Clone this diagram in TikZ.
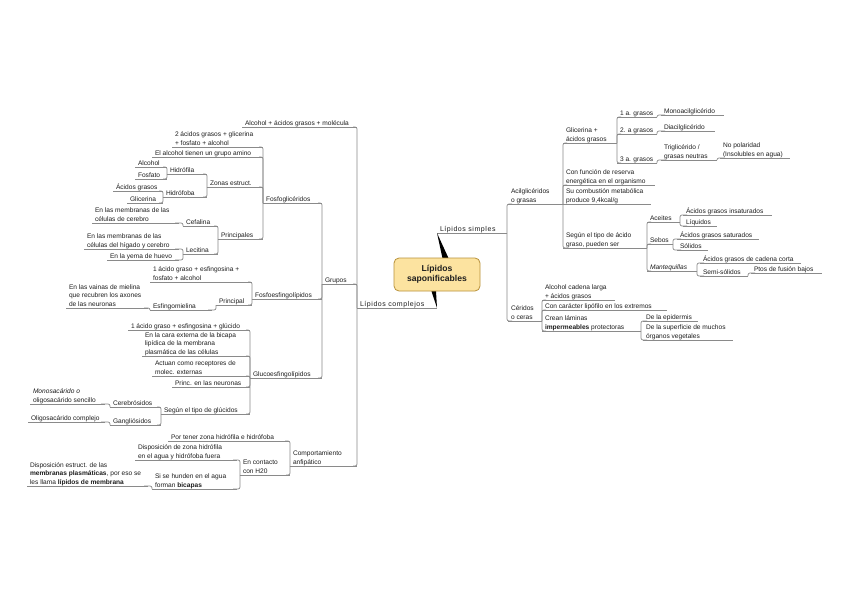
\documentclass[tikz,border=0pt]{standalone}
\usepackage{fontspec}
\setmainfont{Liberation Sans}
\newfontfamily\tpf{Liberation Sans}
\newfontfamily\tpfsp[LetterSpace=8]{Liberation Sans}
\usetikzlibrary{calc}
\definecolor{lin}{HTML}{8A8A8A}
\definecolor{cfill}{HTML}{FCE3A0}
\definecolor{cdraw}{HTML}{B8913A}
\definecolor{txt}{HTML}{1E1E1E}
\newcommand\tpfont{\tpf\fontsize{6.6}{8.4}\selectfont}
\newcommand\spfont{\tpfsp\fontsize{7}{8.4}\selectfont}
\newcommand\topic[6][]{%
  \pgfmathsetlengthmacro\tpw{#4-(#3)-6}%
  \node[topic,#1] (#2) at (#3,#5) {\makebox[\tpw][l]{\raisebox{0pt}[\height][1.6pt]{\begin{tabular}[b]{@{}l@{}}#6\end{tabular}}}};
  \draw[ul] (#2.south west) -- (#2.south east);}
\newcommand\conR[2]{\draw[conn] (#1.south east) |- ([xshift=4pt]#2.south west);}
\newcommand\conL[2]{\draw[conn] (#1.south west) |- ([xshift=-4pt]#2.south east);}
\newcommand\conS[2]{\draw[conn] (#1.south east) -- (#2.south west);}
\tikzset{
  topic/.style={anchor=south west, inner xsep=3pt, inner ysep=0.3pt, outer sep=0pt, font=\tpfont, text=txt},
  ul/.style={draw=lin, line width=0.7pt},
  conn/.style={draw=lin, line width=0.7pt, rounded corners=2pt},
  central/.style={rounded corners=5pt, fill=cfill, draw=cdraw, line width=0.8pt,
    minimum width=86pt, minimum height=33pt, align=center, inner sep=0pt, text=txt,
    font=\tpf\bfseries\fontsize{8.6}{10}\selectfont}
}
\begin{document}
\begin{tikzpicture}[x=1pt,y=-1pt]
\fill[white] (0,0) rectangle (848,599);
\path[use as bounding box] (0,0) rectangle (848,599);

% ---------- right side ----------
\topic[font=\spfont]{simp}{437}{507}{233}{Lípidos simples}
\topic{acil}{508}{563}{204}{Acilglicéridos\\o grasas}
\topic{glic}{563}{617}{143}{Glicerina +\\ácidos grasos}
\topic{a1}{617}{657}{117}{1 a. grasos}
\topic{mono}{661}{724}{115}{Monoacilglicérido}
\topic{a2}{617}{657}{134}{2. a grasos}
\topic{di}{661}{715}{131}{Diacilglicérido}
\topic{a3}{617}{657}{163}{3 a. grasos}
\topic{tri}{661}{717}{160}{Triglicérido /\\grasas neutras}
\topic{nopol}{720}{790}{158}{No polaridad\\(Insolubles en agua)}
\topic{func}{563}{655}{185}{Con función de reserva\\energética en el organismo}
\topic{comb}{563}{651}{204}{Su combustión metabólica\\produce 9,4kcal/g}
\topic{segun}{563}{647}{248}{Según el tipo de ácido\\graso, pueden ser}
\topic{aceit}{647}{680}{222}{Aceites}
\topic{ains}{683}{772}{215}{Ácidos grasos insaturados}
\topic{liq}{683}{717}{226}{Líquidos}
\topic{sebos}{647}{673}{244}{Sebos}
\topic{asat}{677}{759}{239}{Ácidos grasos saturados}
\topic{sol}{677}{708}{250}{Sólidos}
\topic{mant}{647}{697}{271}{\textit{Mantequillas}}
\topic{acort}{700}{801}{263}{Ácidos grasos de cadena corta}
\topic{semi}{700}{748}{276}{Semi-sólidos}
\topic{ptos}{751}{822}{273}{Ptos de fusión bajos}
\topic{cer}{508}{542}{321}{Céridos\\o ceras}
\topic{alc2}{542}{615}{300}{Alcohol cadena larga\\+ ácidos grasos}
\topic{lipo}{542}{667}{310}{Con carácter lipófilo en los extremos}
\topic{lam}{542}{641}{331}{Crean láminas\\\textbf{impermeables} protectoras}
\topic{epid}{643}{698}{321}{De la epidermis}
\topic{sup}{643}{733}{340}{De la superficie de muchos\\órganos vegetales}

\conR{simp}{acil} \conR{simp}{cer}
\conR{acil}{glic} \conR{acil}{func} \conS{acil}{comb} \conR{acil}{segun}
\conR{glic}{a1} \conR{glic}{a2} \conR{glic}{a3}
\conR{a1}{mono} \conR{a2}{di} \conR{a3}{tri} \conR{tri}{nopol}
\conR{segun}{aceit} \conR{segun}{sebos} \conR{segun}{mant}
\conR{aceit}{ains} \conR{aceit}{liq}
\conR{sebos}{asat} \conR{sebos}{sol}
\conR{mant}{acort} \conR{mant}{semi} \conR{semi}{ptos}
\conR{cer}{alc2} \conR{cer}{lipo} \conR{cer}{lam}
\conR{lam}{epid} \conR{lam}{sup}

% ---------- left side ----------
\topic[font=\spfont]{comp}{357}{437}{308}{Lípidos complejos}
\topic{alcm}{242}{357}{127}{Alcohol + ácidos grasos + molécula}
\topic{grupos}{322}{357}{284}{Grupos}
\topic{compo}{290}{357}{466}{Comportamiento\\anfipático}
\topic{fosfo}{263}{322}{203}{Fosfoglicéridos}
\topic{fesf}{252}{322}{299}{Fosfoesfingolípidos}
\topic{gesf}{250}{322}{378}{Glucoesfingolípidos}
\topic{dos}{172}{263}{147}{2 ácidos grasos + glicerina\\+ fosfato + alcohol}
\topic{amino}{152}{263}{157}{El alcohol tienen un grupo amino}
\topic{zonas}{207}{263}{187}{Zonas estruct.}
\topic{princ}{218}{263}{239}{Principales}
\topic{hfila}{167}{207}{174}{Hidrófila}
\topic{hfoba}{163}{207}{197}{Hidrófoba}
\topic{alcoh}{135}{167}{167}{Alcohol}
\topic{fosf}{135}{167}{179}{Fosfato}
\topic{agr}{113}{163}{191}{Ácidos grasos}
\topic{glice}{127}{163}{203}{Glicerina}
\topic{cef}{183}{218}{226}{Cefalina}
\topic{lec}{183}{218}{254}{Lecitina}
\topic{cmem}{92}{179}{223}{En las membranas de las\\células de cerebro}
\topic{lmem}{84}{179}{249}{En las membranas de las\\células del hígado y cerebro}
\topic{yema}{107}{179}{260}{En la yema de huevo}
\topic{fesf1}{150}{252}{282}{1 ácido graso + esfingosina +\\fosfato + alcohol}
\topic{princ2}{216}{252}{305}{Principal}
\topic{esfm}{150}{212}{310}{Esfingomielina}
\topic{vainas}{66}{148}{308}{En las vainas de mielina\\que recubren los axones\\de las neuronas}
\topic{gesf1}{128}{250}{330}{1 ácido graso + esfingosina + glúcido}
\topic{cara}{142}{250}{356}{En la cara externa de la bicapa\\lipídica de la membrana\\plasmática de las células}
\topic{actuan}{152}{250}{376}{Actuan como receptores de\\molec. externas}
\topic{neur}{172}{250}{387}{Princ. en las neuronas}
\topic{stipo}{161}{250}{414}{Según el tipo de glúcidos}
\topic{cereb}{110}{161}{407}{Cerebrósidos}
\topic{gang}{110}{161}{425}{Gangliósidos}
\topic{mono2}{30}{105}{404}{\textit{Monosacárido o}\\oligosacárido sencillo}
\topic{olig}{28}{105}{422}{Oligosacárido complejo}
\topic{tener}{168}{289}{441}{Por tener zona hidrófila e hidrófoba}
\topic{contacto}{240}{290}{475}{En contacto\\con H20}
\topic{disp}{135}{237}{460}{Disposición de zona hidrófila\\en el agua y hidrófoba fuera}
\topic{hunden}{152}{237}{489}{Si se hunden en el agua\\forman \textbf{bicapas}}
\topic{estr}{27}{148}{486}{Disposición estruct. de las\\\textbf{membranas plasmáticas}, por eso se\\les llama \textbf{lípidos de membrana}}

\conL{comp}{alcm} \conL{comp}{grupos} \conL{comp}{compo}
\conL{grupos}{fosfo} \conL{grupos}{fesf} \conL{grupos}{gesf}
\conL{fosfo}{dos} \conL{fosfo}{amino} \conL{fosfo}{zonas} \conL{fosfo}{princ}
\conL{zonas}{hfila} \conL{zonas}{hfoba}
\conL{hfila}{alcoh} \conL{hfila}{fosf}
\conL{hfoba}{agr} \conL{hfoba}{glice}
\conL{princ}{cef} \conL{princ}{lec}
\conL{cef}{cmem}
\conL{lec}{lmem} \conL{lec}{yema}
\conL{fesf}{fesf1} \conL{fesf}{princ2}
\conL{princ2}{esfm} \conL{esfm}{vainas}
\conL{gesf}{gesf1} \conL{gesf}{cara} \conL{gesf}{actuan} \conL{gesf}{neur} \conL{gesf}{stipo}
\conL{stipo}{cereb} \conL{stipo}{gang}
\conL{cereb}{mono2} \conL{gang}{olig}
\conL{compo}{tener} \conL{compo}{contacto}
\conL{contacto}{disp} \conL{contacto}{hunden}
\conL{hunden}{estr}

% ---------- centre ----------
\coordinate (cc) at (437,274.5);
\fill[black] (simp.south west) -- ([xshift=9pt]cc) -- ([xshift=19pt]cc) -- cycle;
\fill[black] (comp.south east) -- ([xshift=-11pt]cc) -- ([xshift=-2pt]cc) -- cycle;
\node[central] (center) at (cc) {Lípidos\\saponificables};
\end{tikzpicture}
\end{document}
